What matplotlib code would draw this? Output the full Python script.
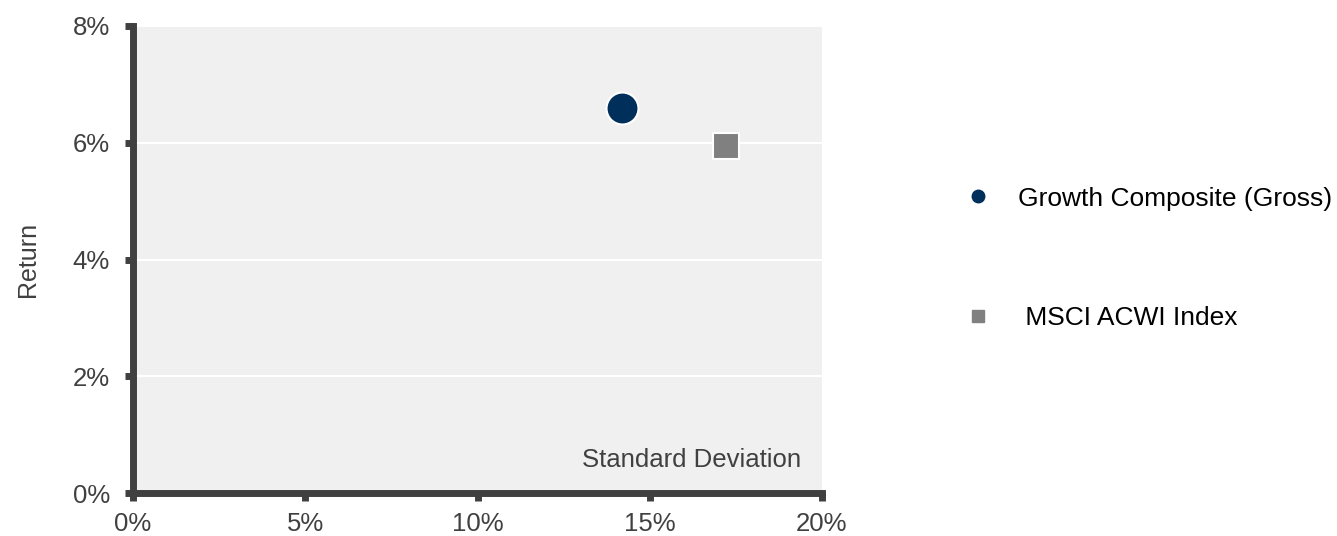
import matplotlib.pyplot as plt
from matplotlib.lines import Line2D
from matplotlib.ticker import FuncFormatter

plt.rcParams['font.family'] = ['Liberation Sans', 'DejaVu Sans']

# risk / return points
names = ['Growth Composite (Gross)', ' MSCI ACWI Index']
std_dev = [14.2, 17.2]
returns = [6.6, 5.95]
colors = ['#002f5c', '#808080']
markers = ['o', 's']
sizes = [23, 19]

x_ticks = [0, 5, 10, 15, 20]
y_ticks = [0, 2, 4, 6, 8]

axis_col = '#404040'

fig = plt.figure(figsize=(13.37, 5.36), dpi=100)
ax = fig.add_axes([0.0995, 0.0802, 0.5153, 0.8713])
ax.set_facecolor('#f0f0f0')

for sx, ry, c, m, s in zip(std_dev, returns, colors, markers, sizes):
    ax.plot(sx, ry, marker=m, color=c, markersize=s, markeredgecolor='white',
            markeredgewidth=1.5, linestyle='none', zorder=3)

ax.set_xlim(0, 20)
ax.set_ylim(0, 8)
ax.set_xticks(x_ticks)
ax.set_yticks(y_ticks)
pct = FuncFormatter(lambda v, _: f'{v:.0f}%')
ax.xaxis.set_major_formatter(pct)
ax.yaxis.set_major_formatter(pct)

ax.grid(axis='y', color='white', linewidth=1.5)
ax.set_axisbelow(True)

for side in ['top', 'right']:
    ax.spines[side].set_visible(False)
for side in ['left', 'bottom']:
    ax.spines[side].set_color(axis_col)
    ax.spines[side].set_linewidth(5)
    ax.spines[side].set_capstyle('projecting')

ax.tick_params(axis='both', direction='out', length=5.5, width=5,
               color=axis_col, labelcolor=axis_col, labelsize=18.5)
ax.tick_params(axis='x', pad=8)
ax.tick_params(axis='y', pad=11)

ax.set_ylabel('Return', fontsize=18, color=axis_col, labelpad=24)
ax.text(0.97, 0.045, 'Standard Deviation', transform=ax.transAxes,
        ha='right', va='bottom', fontsize=18.5, color=axis_col)

handles = [Line2D([], [], marker=m, color=c, linestyle='none', markersize=9)
           for c, m in zip(colors, markers)]
fig.legend(handles, names, loc='upper left', bbox_to_anchor=(0.704, 0.696),
           frameon=False, fontsize=19, labelspacing=3.62, handletextpad=1.0,
           handlelength=1.0)

fig.savefig('out.png', dpi=100)
